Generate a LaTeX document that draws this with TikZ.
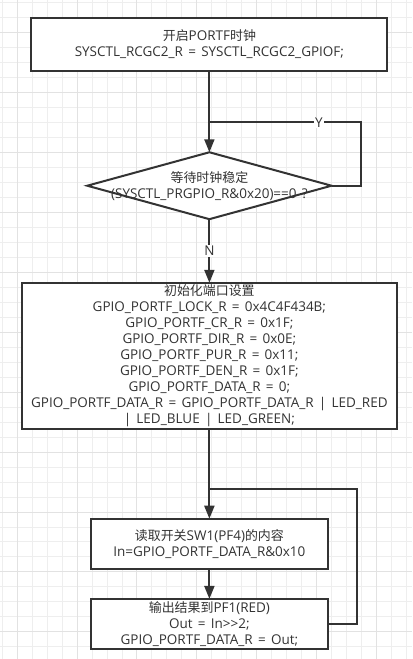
\documentclass[tikz,border=0pt]{standalone}
\usepackage{fontspec}
\setmainfont{Open Sans}[WordSpace=1.5]
\newfontfamily\cjk{Noto Sans CJK SC}[Scale=0.96]
\usetikzlibrary{positioning, arrows.meta, shapes.geometric}
\definecolor{ink}{HTML}{333333}
\definecolor{gridminor}{HTML}{EEEEEE}
\definecolor{gridmajor}{HTML}{E2E2E2}
\tikzset{
    >={Triangle[width=10pt, length=13pt]}, % filled arrow heads
    every node/.style={font=\fontsize{13.5}{16}\selectfont, text=ink},
    process/.style={draw=ink, line width=2pt, fill=white, align=center, inner sep=0pt, outer sep=0pt},
    decision/.style={diamond, draw=ink, line width=2pt, fill=white, minimum width=244.6pt, minimum height=67pt, inner sep=0pt, outer sep=0pt},
    flow/.style={draw=ink, line width=2pt},
    tag/.style={fill=white, inner sep=1pt}, % labels Y and N sit on the lines
}

\begin{document}
\begin{tikzpicture}[x=1pt, y=-1pt]
    % background grid
    \fill[white] (0,0) rectangle (412,659);
    \foreach \k in {0,...,27}
        \draw[gridminor, line width=1pt] ({1.7+15*\k},0) -- ({1.7+15*\k},659);
    \foreach \k in {0,...,43}
        \draw[gridminor, line width=1pt] (0,{2.3+15*\k}) -- (412,{2.3+15*\k});
    \foreach \k in {0,...,6}
        \draw[gridmajor, line width=1pt] ({16.7+60*\k},0) -- ({16.7+60*\k},659);
    \foreach \k in {0,...,10}
        \draw[gridmajor, line width=1pt] (0,{32.3+60*\k}) -- (412,{32.3+60*\k});
    \useasboundingbox (0,0) rectangle (412,659);

    \node[process, minimum width=356.5pt, minimum height=52.6pt] (CLKON) at (209.2,44)
        {{\cjk 开启}PORTF{\cjk 时钟}\\SYSCTL\_RCGC2\_R = SYSCTL\_RCGC2\_GPIOF;};
    \node[decision, below=81.7pt of CLKON] (WAIT) {};
    \node[align=center] (WAITTXT) at (WAIT)
        {{\cjk 等待时钟稳定}\\(SYSCTL\_PRGPIO\_R\&0x20)==0 ?};
    \node[process, minimum width=375.7pt, minimum height=146.3pt, below=63.7pt of WAIT] (INIT)
        {{\cjk 初始化端口设置}\\
         GPIO\_PORTF\_LOCK\_R = 0x4C4F434B;\\
         GPIO\_PORTF\_CR\_R = 0x1F;\\
         GPIO\_PORTF\_DIR\_R = 0x0E;\\
         GPIO\_PORTF\_PUR\_R = 0x11;\\
         GPIO\_PORTF\_DEN\_R = 0x1F;\\
         GPIO\_PORTF\_DATA\_R = 0;\\
         GPIO\_PORTF\_DATA\_R = GPIO\_PORTF\_DATA\_R | LED\_RED\\
         | LED\_BLUE | LED\_GREEN;};
    \node[process, minimum width=236.7pt, minimum height=50.3pt, below=90pt of INIT] (READ)
        {{\cjk 读取开关}SW1(PF4){\cjk 的内容}\\In=GPIO\_PORTF\_DATA\_R\&0x10};
    \node[process, minimum width=236.7pt, minimum height=50pt, below=30pt of READ] (OUTPUT)
        {{\cjk 输出结果到}PF1(RED)\\Out = In>{}>2;\\GPIO\_PORTF\_DATA\_R = Out;};

    \coordinate[below=51.7pt of CLKON] (YJOIN);
    \coordinate[below=60pt of INIT] (LOOPJOIN);

    \path (CLKON) edge[flow, ->] (WAIT)
          (WAIT) edge[flow, ->] node[tag] {N} (INIT)
          (INIT) edge[flow, ->] (READ)
          (READ) edge[flow, ->] (OUTPUT);

    \draw[flow] (WAIT.east) -- ++(30,0) |- node[tag, pos=0.64] {Y} (YJOIN);
    \draw[flow] (OUTPUT.east) -- ++(29.6,0) |- (LOOPJOIN);
\end{tikzpicture}
\end{document}
